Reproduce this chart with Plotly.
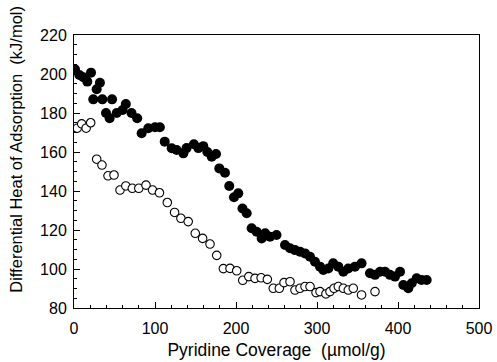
import plotly.graph_objects as go

# Differential heat of pyridine adsorption vs. coverage
filled_x = [1.2, 6.6, 11.5, 16.4, 21, 32, 28, 23.8, 35, 47, 39.5, 44, 52.7, 60, 64, 71, 78,
            83.5, 91.7, 100, 106, 112, 120.6, 126.7, 135, 139, 148, 153.5, 159.6, 164.6,
            170, 175.3, 179.4, 186.4, 191.7, 197.5, 202.8, 208, 213.2, 219.3, 225.5,
            231.7, 236, 242, 250, 260.5, 266.7, 272.8, 279, 285.2, 291.4, 297.5, 303.7,
            307.8, 314, 320, 326.3, 332.5, 338.6, 346.9, 355, 365.4, 371.6, 377.8, 384,
            390, 396.3, 402.5, 406.6, 412.7, 416.9, 423, 429, 435.4]
filled_y = [202.4, 199.5, 198.3, 196.1, 200.7, 195.5, 192.2, 187, 187, 187, 180, 177.3, 180,
            181.5, 184.6, 180, 177.3, 169.6, 172.2, 172.7, 172.7, 165.3, 161.9, 161, 159.3,
            162, 164, 162, 163, 160, 157.6, 159, 151.6, 149.4, 142.6, 136.8, 138.8, 131,
            128.6, 120.9, 119.1, 115.7, 118.3, 116.6, 117.4, 112.3, 110.6, 109.7, 108.9,
            108, 106.3, 103.7, 101.2, 99.5, 100.3, 102.9, 101.2, 98.6, 100.3, 101.2, 102.9,
            97.8, 97, 98.6, 98.6, 97, 96.1, 98.6, 91.8, 90.1, 92.7, 95.2, 94.4, 94.4]

open_x = [4, 9.5, 15, 20.6, 28, 34.5, 42, 49.4, 56.8, 64, 72, 80, 88.9, 97, 105.5, 115.2,
          124.2, 132, 141, 149.7, 158.8, 167.9, 176.2, 184.4, 192.6, 200.9, 208.3, 215.8,
          223.5, 231, 238.7, 246, 253.5, 259.3, 266.7, 272.8, 279, 285.2, 291.4, 298.8,
          303.7, 311, 316, 321, 326.3, 332.5, 338.6, 344.8, 355, 371.6]
open_y = [172.2, 174.4, 172.2, 175, 156.3, 153.3, 147.8, 148.2, 140.5, 142.6, 141.4, 141.4,
          143, 140.5, 139.1, 134.1, 129, 126, 124.3, 118.3, 115.7, 112.8, 107, 100.2, 100.3,
          99.1, 94.2, 96.1, 95.2, 95.5, 94.7, 90.1, 90.1, 93, 93.5, 89.2, 90.1, 91, 91,
          87.9, 88.4, 87.2, 88.4, 90.1, 91, 90.1, 89.2, 90.1, 86.7, 88.4]

x_ticks = [0, 100, 200, 300, 400, 500]
y_ticks = [80, 100, 120, 140, 160, 180, 200, 220]

FONT = "Liberation Sans, Arial, sans-serif"

fig = go.Figure()
fig.add_trace(go.Scatter(
    x=filled_x, y=filled_y, mode="markers",
    marker=dict(symbol="circle", size=10, color="black", line=dict(width=0)),
    showlegend=False,
))
fig.add_trace(go.Scatter(
    x=open_x, y=open_y, mode="markers",
    marker=dict(symbol="circle", size=8.5, color="white", line=dict(width=1.1, color="black")),
    showlegend=False,
))

axis_common = dict(
    showgrid=False, zeroline=False, automargin=False,
    showline=True, linecolor="black", linewidth=1, mirror=True,
    ticks="inside", ticklen=6, tickwidth=1, tickcolor="black",
    tickfont=dict(family=FONT, size=16, color="black"),
)

fig.update_xaxes(
    range=[0, 500], tickvals=x_ticks, ticklabelstandoff=6,
    minor=dict(dtick=20, ticks="inside", ticklen=3, tickcolor="black"),
    title=dict(text="Pyridine Coverage  (\u00b5mol/g)", standoff=7,
               font=dict(family=FONT, size=17.5, color="black")),
    **axis_common,
)
fig.update_yaxes(
    range=[80, 220], tickvals=y_ticks, ticklabelstandoff=3,
    minor=dict(dtick=5, ticks="inside", ticklen=3, tickcolor="black"),
    **axis_common,
)

# y-axis title placed slightly above the plot centre
fig.add_annotation(
    text="Differential Heat of Adsorption  (kJ/mol)",
    xref="paper", yref="paper", x=-0.143, y=0.58,
    xanchor="center", yanchor="middle", textangle=-90, showarrow=False,
    font=dict(family=FONT, size=16.5, color="black"),
)

fig.update_layout(
    width=497, height=362,
    margin=dict(l=74, r=18, t=35, b=54),
    plot_bgcolor="white", paper_bgcolor="white",
)

fig.write_html("out.html")
